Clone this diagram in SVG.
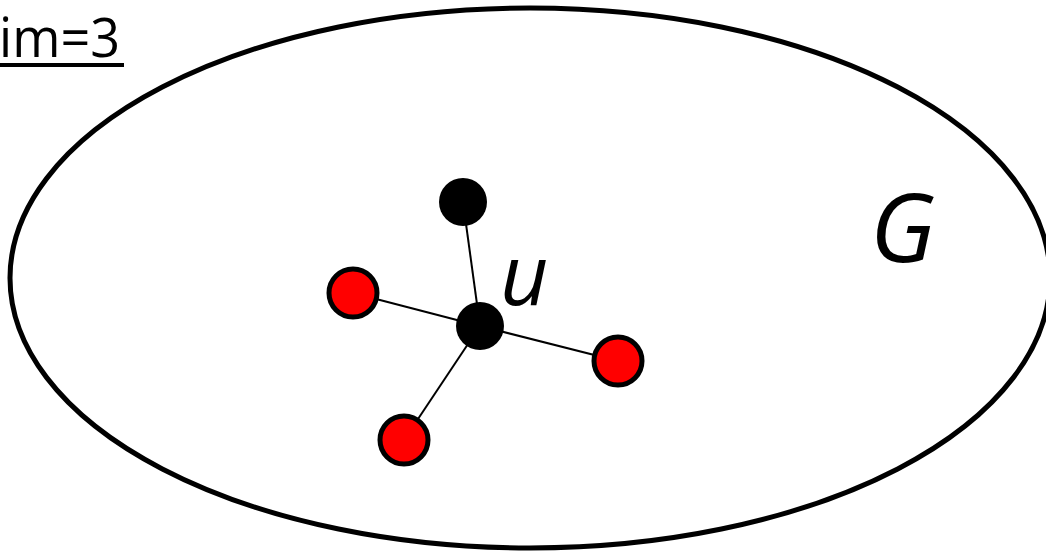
<svg xmlns="http://www.w3.org/2000/svg" width="1046" height="553" viewBox="0 0 1046 553">
<style>
.edge{stroke:#000;stroke-width:2}
.red{fill:#ff0000;stroke:#000;stroke-width:5}
.blk{fill:#000}
.lbl{font-family:"Open Sans","Noto Sans",sans-serif;font-style:italic;fill:#000}
</style>
<rect width="1046" height="553" fill="#fff"/>
<g id="title">
<text x="-1" y="57" font-family="Open Sans, Noto Sans, sans-serif" font-size="54" textLength="121" lengthAdjust="spacingAndGlyphs">im=3</text>
<rect x="0" y="63" width="124" height="4" fill="#000"/>
</g>
<g id="G">
<ellipse cx="530" cy="278" rx="520" ry="270" fill="none" stroke="#000" stroke-width="5"/>
<text class="lbl" x="870" y="262" font-size="96">G</text>
</g>
<g id="edges">
<line class="edge" x1="480" y1="326" x2="463" y2="202"/>
<line class="edge" x1="480" y1="326" x2="353" y2="293"/>
<line class="edge" x1="480" y1="326" x2="618" y2="361"/>
<line class="edge" x1="480" y1="326" x2="404" y2="440"/>
</g>
<g id="n-top"><circle class="blk" cx="463" cy="202" r="24"/></g>
<g id="n-u"><circle class="blk" cx="480" cy="326" r="24"/>
<text class="lbl" x="500" y="305" font-size="84">u</text></g>
<g id="n-left"><circle class="red" cx="353" cy="293" r="24"/></g>
<g id="n-right"><circle class="red" cx="618" cy="361" r="24"/></g>
<g id="n-bottom"><circle class="red" cx="404" cy="440" r="24"/></g>
</svg>
